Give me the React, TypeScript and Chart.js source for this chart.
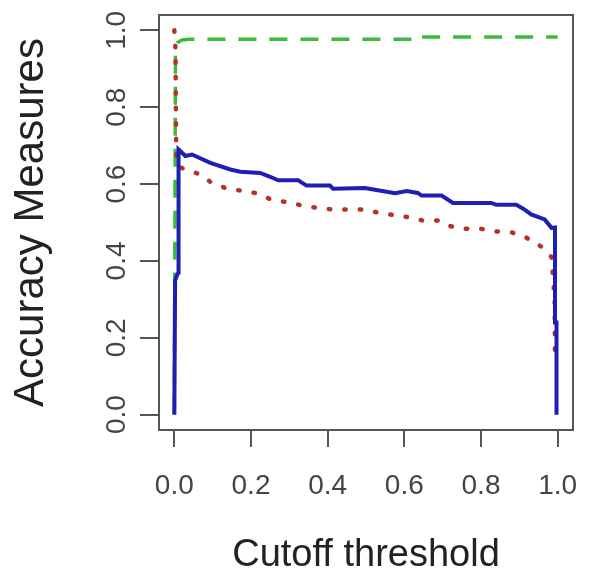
import React, { useEffect, useRef } from "react";
import { Chart, registerables } from "chart.js";

Chart.register(...registerables);

// Accuracy (blue, solid)
const accuracyX = [0.0, 0.002, 0.01, 0.01, 0.012, 0.029, 0.046, 0.094, 0.146, 0.172, 0.224, 0.25, 0.271, 0.323, 0.345, 0.406, 0.414, 0.497, 0.531, 0.576, 0.606, 0.635, 0.645, 0.697, 0.727, 0.827, 0.84, 0.892, 0.91, 0.931, 0.966, 0.984, 0.993, 0.993, 0.997, 0.997];
const accuracyY = [0.0, 0.35, 0.37, 0.66, 0.69, 0.673, 0.677, 0.655, 0.638, 0.632, 0.629, 0.619, 0.61, 0.61, 0.596, 0.596, 0.588, 0.59, 0.584, 0.576, 0.582, 0.577, 0.57, 0.57, 0.551, 0.551, 0.546, 0.546, 0.536, 0.521, 0.508, 0.486, 0.487, 0.24, 0.24, 0.0];

// Specificity (red, dotted)
const specificityX = [0.0, 0.003, 0.005, 0.012, 0.029, 0.068, 0.095, 0.135, 0.174, 0.215, 0.254, 0.293, 0.335, 0.374, 0.413, 0.454, 0.495, 0.534, 0.574, 0.609, 0.649, 0.688, 0.721, 0.758, 0.797, 0.836, 0.878, 0.916, 0.956, 0.984, 0.99, 0.992, 0.993];
const specificityY = [1.0, 0.95, 0.66, 0.645, 0.638, 0.625, 0.605, 0.589, 0.583, 0.576, 0.559, 0.553, 0.544, 0.538, 0.534, 0.534, 0.534, 0.525, 0.519, 0.514, 0.505, 0.505, 0.49, 0.484, 0.484, 0.477, 0.475, 0.462, 0.438, 0.41, 0.33, 0.33, 0.135];

// Sensitivity (green, dashed)
const sensitivityX = [0.0, 0.003, 0.008, 0.02, 0.037, 0.62, 0.62, 1.0];
const sensitivityY = [0.0, 0.95, 0.968, 0.975, 0.977, 0.977, 0.983, 0.983];

const tickValues = [0, 0.2, 0.4, 0.6, 0.8, 1.0];
const xTitle = "Cutoff threshold";
const yTitle = "Accuracy Measures";

const FONT = "'Liberation Sans', Arial, Helvetica, sans-serif";

const zip = (xs: number[], ys: number[]) => xs.map((x, i) => ({ x, y: ys[i] }));

const boxPlugin = {
  id: "boxPlugin",
  afterDraw(chart: any) {
    const { ctx, chartArea } = chart;
    ctx.save();
    ctx.strokeStyle = "#555";
    ctx.lineWidth = 2;
    ctx.strokeRect(chartArea.left, chartArea.top, chartArea.right - chartArea.left, chartArea.bottom - chartArea.top);
    ctx.restore();
  },
};

export default function App() {
  const ref = useRef<HTMLCanvasElement | null>(null);

  useEffect(() => {
    if (!ref.current) return;
    const setTicks = (scale: any) => {
      scale.ticks = tickValues.map((v) => ({ value: v }));
    };
    const chart = new Chart(ref.current, {
      type: "line",
      data: {
        datasets: [
          {
            label: "Accuracy",
            data: zip(accuracyX, accuracyY),
            borderColor: "#1e1eb4",
            borderWidth: 4,
            pointRadius: 0,
            tension: 0,
            fill: false,
          },
          {
            label: "Specificity",
            data: zip(specificityX, specificityY),
            borderColor: "#b8302c",
            borderWidth: 4.5,
            borderDash: [1.5, 14],
            borderCapStyle: "round",
            pointRadius: 0,
            tension: 0,
            fill: false,
          },
          {
            label: "Sensitivity",
            data: zip(sensitivityX, sensitivityY),
            borderColor: "#3cba3c",
            borderWidth: 3.5,
            borderDash: [18, 13],
            pointRadius: 0,
            tension: 0,
            fill: false,
          },
        ],
      },
      options: {
        animation: false,
        responsive: false,
        maintainAspectRatio: false,
        layout: { padding: { top: 15, right: 17, left: 0, bottom: 0 } },
        plugins: { legend: { display: false }, tooltip: { enabled: false } },
        scales: {
          x: {
            type: "linear",
            min: -0.04,
            max: 1.04,
            afterBuildTicks: setTicks,
            afterFit: (s: any) => {
              s.height = 149;
              s.paddingLeft = 0;
              s.paddingRight = 0;
            },
            border: { display: false },
            grid: {
              drawOnChartArea: false,
              drawTicks: true,
              tickLength: 17,
              color: "#555",
              lineWidth: 2,
            },
            ticks: {
              callback: (v: any) => Number(v).toFixed(1),
              font: { family: FONT, size: 28 },
              color: "#444",
              padding: 22,
              maxRotation: 0,
              autoSkip: false,
            },
            title: {
              display: true,
              text: xTitle,
              font: { family: FONT, size: 38, lineHeight: 1.2 },
              color: "#222",
              padding: { top: 0, bottom: 1 },
            },
          },
          y: {
            type: "linear",
            min: -0.04,
            max: 1.04,
            afterBuildTicks: setTicks,
            afterFit: (s: any) => {
              s.width = 159;
              s.paddingTop = 0;
              s.paddingBottom = 0;
            },
            border: { display: false },
            grid: {
              drawOnChartArea: false,
              drawTicks: true,
              tickLength: 19,
              color: "#555",
              lineWidth: 2,
            },
            ticks: {
              callback: (v: any) => Number(v).toFixed(1),
              font: { family: FONT, size: 28 },
              color: "#444",
              padding: 3,
              minRotation: 90,
              maxRotation: 90,
              crossAlign: "center",
              autoSkip: false,
            },
            title: {
              display: true,
              text: yTitle,
              font: { family: FONT, size: 42, lineHeight: 1.2 },
              color: "#222",
              padding: { top: 6, bottom: 6 },
            },
          },
        },
      },
      plugins: [boxPlugin],
    } as any);
    return () => chart.destroy();
  }, []);

  return (
    <div style={{ position: "absolute", left: 0, top: 0, width: 590, height: 579, background: "#fff" }}>
      <canvas ref={ref} width={590} height={579} style={{ display: "block", width: 590, height: 579 }} />
    </div>
  );
}
